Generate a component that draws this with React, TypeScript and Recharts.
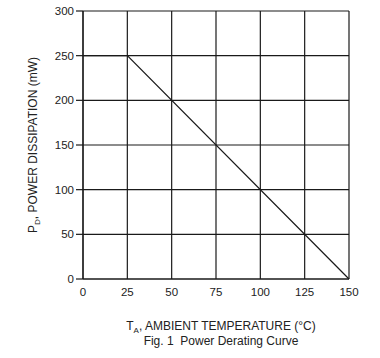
import React from "react";
import { LineChart, Line, XAxis, YAxis, CartesianGrid, Label } from "recharts";

const temperatures = [0, 25, 150];
const powerMw = [250, 250, 0];
const xTicks = [0, 25, 50, 75, 100, 125, 150];
const yTicks = [0, 50, 100, 150, 200, 250, 300];

const data = temperatures.map((t, i) => ({ t, p: powerMw[i] }));

const FONT = "'Liberation Sans', Arial, sans-serif";
const TXT = "#222";

const XTitle = (props: any) => {
  const vb = props.viewBox || {};
  const cx = vb.x + vb.width / 2 + 5;
  const y0 = vb.y;
  return (
    <g>
      <text x={cx} y={y0 + 51} textAnchor="middle" fontSize={12} fill={TXT} fontFamily={FONT}>
        <tspan>T</tspan>
        <tspan dy={3} fontSize={8}>A</tspan>
        <tspan dy={-3}>, AMBIENT TEMPERATURE (°C)</tspan>
      </text>
      <text x={cx} y={y0 + 66} textAnchor="middle" fontSize={12} fill={TXT} fontFamily={FONT}>
        {"Fig. 1\u00a0 Power Derating Curve"}
      </text>
    </g>
  );
};

const YTitle = (props: any) => {
  const vb = props.viewBox || {};
  const cx = 37;
  const cy = vb.y + vb.height / 2;
  return (
    <text
      x={cx}
      y={cy}
      textAnchor="middle"
      fontSize={12}
      fill={TXT}
      fontFamily={FONT}
      transform={`rotate(-90 ${cx} ${cy})`}
    >
      <tspan>P</tspan>
      <tspan dy={3} fontSize={8}>D</tspan>
      <tspan dy={-3}>, POWER DISSIPATION (mW)</tspan>
    </text>
  );
};

export default function App() {
  return (
    <div style={{ position: "absolute", left: 0, top: 0, width: 380, height: 358, background: "#fff" }}>
      <LineChart
        width={380}
        height={358}
        data={data}
        margin={{ top: 11, right: 31, left: 0, bottom: 0 }}
      >
        <CartesianGrid
          stroke="#1a1a1a"
          strokeWidth={1.2}
          horizontalValues={yTicks}
          verticalValues={xTicks}
        />
        <XAxis
          dataKey="t"
          type="number"
          domain={[0, 150]}
          ticks={xTicks}
          height={79}
          tickLine={false}
          axisLine={{ stroke: "#1a1a1a", strokeWidth: 1.2 }}
          tickSize={6}
          tickMargin={3}
          interval={0}
          tick={{ fill: TXT, fontSize: 11.5, fontFamily: FONT }}
        >
          <Label content={XTitle} />
        </XAxis>
        <YAxis
          type="number"
          domain={[0, 300]}
          ticks={yTicks}
          width={83}
          tickLine={{ stroke: "#1a1a1a", strokeWidth: 1.2 }}
          axisLine={{ stroke: "#1a1a1a", strokeWidth: 1.2 }}
          tickSize={7}
          tickMargin={2}
          interval={0}
          tick={{ fill: TXT, fontSize: 11.5, fontFamily: FONT }}
        >
          <Label content={YTitle} />
        </YAxis>
        <Line
          dataKey="p"
          stroke="#1a1a1a"
          strokeWidth={1.2}
          dot={false}
          isAnimationActive={false}
          type="linear"
        />
      </LineChart>
    </div>
  );
}
